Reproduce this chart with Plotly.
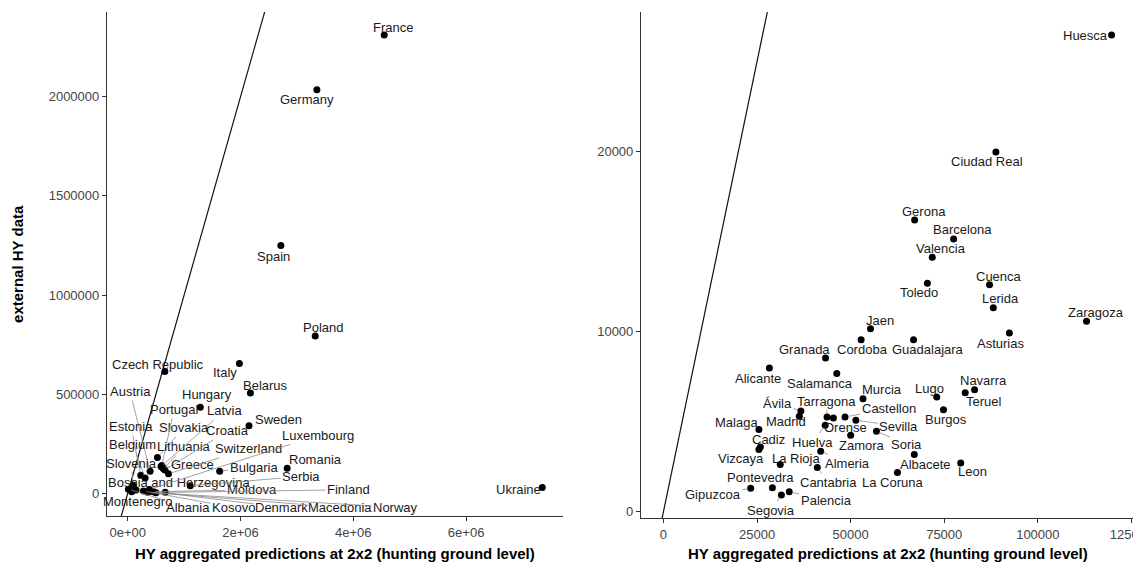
import plotly.graph_objects as go

# ---------------- Data: left panel (countries) ----------------
countries = ["France", "Germany", "Spain", "Poland", "Czech Republic", "Italy", "Belarus",
             "Hungary", "Sweden", "Romania", "Bulgaria", "Ukraine", "Slovakia", "Austria",
             "Estonia", "Belgium", "Portugal", "Latvia", "Lithuania", "Croatia", "Greece",
             "Switzerland", "Slovenia", "Bosnia and Herzegovina", "Serbia", "Luxembourg",
             "Moldova", "Finland", "Montenegro", "Albania", "Kosovo", "Denmark", "Macedonia",
             "Norway"]
country_pred = [4548000, 3354000, 2715000, 3324000, 658000, 1980000, 2175000,
                1286000, 2150000, 2827000, 1630000, 7350000, 527000, 397000,
                231000, 308000, 604000, 590000, 634000, 660000, 620000,
                723000, 100000, 148000, 1108000, 385000,
                456000, 664000, 70000, 12000, 279000, 430000, 350000,
                500000]
country_ext = [2312000, 2035000, 1250000, 794000, 615000, 655000, 506000,
               434000, 341000, 127000, 112000, 29000, 181000, 111000,
               91000, 78000, 140000, 135000, 124000, 118000, 130000,
               99000, 41000, 16500, 38000, 19800,
               8300, 5000, 8000, 21000, 11600, 10000, 6000,
               3000]

# ---------------- Data: right panel (Spanish provinces) ----------------
provinces = ["Huesca", "Ciudad Real", "Gerona", "Barcelona", "Valencia", "Toledo", "Cuenca",
             "Lerida", "Zaragoza", "Asturias", "Jaen", "Cordoba", "Guadalajara", "Granada",
             "Alicante", "Salamanca", "Murcia", "Lugo", "Navarra", "Teruel", "Burgos",
             "Ávila", "Madrid", "Tarragona", "Orense", "Castellon", "Sevilla", "Huelva",
             "Soria", "Zamora", "Malaga", "Cadiz", "Vizcaya", "Almeria", "Albacete", "Leon",
             "La Rioja", "Cantabria", "La Coruna", "Pontevedra", "Gipuzcoa", "Palencia",
             "Segovia"]
province_pred = [119700, 88800, 67100, 77500, 71800, 70500, 87100,
                 88100, 113000, 92400, 55300, 52800, 66800, 43300,
                 28300, 46300, 53300, 73000, 83100, 80600, 74800,
                 36700, 36300, 43700, 45400, 48500, 51400, 43200,
                 56900, 50000, 25500, 25900, 25500, 42000, 67000, 79400,
                 31200, 41100, 62500, 29100, 23300, 33600,
                 31500]
province_ext = [26470, 19980, 16200, 15150, 14130, 12690, 12600,
                11320, 10580, 9920, 10160, 9550, 9550, 8530,
                7980, 7670, 6280, 6370, 6780, 6610, 5670,
                5600, 5300, 5260, 5210, 5260, 5080, 4800,
                4470, 4250, 4560, 3600, 3460, 3360, 3180, 2710,
                2630, 2460, 2180, 1330, 1300, 1110,
                930]

# Tick definitions
left_xticks = [0, 2000000, 4000000, 6000000]
left_xticktext = ["0e+00", "2e+06", "4e+06", "6e+06"]
left_yticks = [0, 500000, 1000000, 1500000, 2000000]
right_xticks = [0, 25000, 50000, 75000, 100000, 125000]
right_yticks = [0, 10000, 20000]

# ---------------- Label placement (pixel offsets from point, repel-like) ----------------
# (dx, dy, draw_segment); dy positive = downwards
left_label_offsets = {
    "France": (8.5, -7.6, False), "Germany": (-9.7, 10.1, False), "Spain": (-7.7, 11.3, False),
    "Poland": (8, -8.7, False), "Czech Republic": (-7, -7.4, False), "Italy": (-14.7, 9, False),
    "Belarus": (15, -7.7, False), "Hungary": (6.7, -13.3, False), "Sweden": (30, -6.7, False),
    "Romania": (28.3, -8.3, False), "Bulgaria": (34, -4, True), "Ukraine": (-24, 1.7, False),
    "Slovakia": (26.6, -29.9, True), "Austria": (-20.1, -79.8, True), "Estonia": (-9.7, -48.8, True),
    "Belgium": (-12.4, -33.7, True), "Portugal": (12.3, -56.3, True), "Latvia": (63.1, -55.6, True),
    "Lithuania": (20.6, -22.2, True), "Croatia": (62.8, -39, True), "Greece": (30.1, -3.3, True),
    "Switzerland": (79.9, -24.8, True), "Slovenia": (-2.3, -22.1, True),
    "Bosnia and Herzegovina": (43, -8, True), "Serbia": (110.9, -9.4, True),
    "Luxembourg": (168.9, -54, True), "Moldova": (98.3, -1.9, True), "Finland": (183.2, -2.6, True),
    "Montenegro": (5.7, 9.6, False), "Albania": (59.9, 18.2, True), "Kosovo": (89.9, 16.3, True),
    "Denmark": (129.8, 16, True), "Macedonia": (192.6, 15.2, True), "Norway": (239.8, 14.6, True),
}
right_label_offsets = {
    "Huesca": (-26.2, 0.3, False), "Ciudad Real": (-9.3, 9.7, False), "Gerona": (9.3, -8.6, False),
    "Barcelona": (9.0, -9.0, False), "Valencia": (9.0, -8.4, False), "Toledo": (-8.6, 9.6, False),
    "Cuenca": (9.0, -8.6, False), "Lerida": (7.2, -9.3, False), "Zaragoza": (9.0, -8.4, False),
    "Asturias": (-9.0, 10, False), "Jaen": (9.7, -8.3, False), "Cordoba": (1.1, 9.7, False),
    "Guadalajara": (14, 10, False), "Granada": (-20.8, -8.4, False), "Alicante": (-11.5, 10, False),
    "Salamanca": (-16.8, 10, False), "Murcia": (18.6, -9, False), "Lugo": (-7.5, -8.4, False),
    "Navarra": (8.6, -9.3, False), "Teruel": (19, 8.7, False), "Burgos": (2.9, 10, False),
    "Ávila": (-23.3, -7.4, True), "Madrid": (-13.6, 5.7, False), "Tarragona": (-0.4, -15.7, True),
    "Orense": (12.5, 10, False), "Castellon": (43.7, -8.4, True), "Sevilla": (43, 6, True),
    "Huelva": (-12.2, 16.7, True), "Soria": (30.5, 13.3, True), "Zamora": (11.5, 10.7, False),
    "Malaga": (-22.6, -7.6, False), "Cadiz": (8.2, -7.7, False), "Vizcaya": (-17.9, 9, False),
    "Almeria": (26.9, 12.3, True), "Albacete": (11.5, 10, False), "Leon": (11.5, 9, False),
    "La Rioja": (15.4, -6, False), "Cantabria": (10.8, 15, True), "La Coruna": (-5.4, 10.4, False),
    "Pontevedra": (-11.5, -10.4, False), "Gipuzcoa": (-37.6, 5.7, True),
    "Palencia": (36.9, 8.3, True), "Segovia": (-10, 15, True),
}

FONT = "Liberation Sans, Arial, Helvetica, sans-serif"
TEXT_COL = "#1a1a1a"
SEG_COL = "#8a8a8a"


def expand(vals, mult=0.05, include_zero=False):
    lo, hi = min(vals), max(vals)
    if include_zero:
        lo = min(lo, 0)
    span = hi - lo
    return [lo - mult * span, hi + mult * span]


left_xr = expand(country_pred, include_zero=True)
left_yr = expand(country_ext, include_zero=True)
right_xr = expand(province_pred, include_zero=True)
right_yr = expand(province_ext)

fig = go.Figure()

# 1:1 reference lines
for xr, yr, xa, ya in [(left_xr, left_yr, "x", "y"), (right_xr, right_yr, "x2", "y2")]:
    lo = min(xr[0], yr[0])
    hi = max(xr[1], yr[1])
    fig.add_trace(go.Scatter(x=[lo, hi], y=[lo, hi], mode="lines",
                             line=dict(color="#111111", width=1.2),
                             xaxis=xa, yaxis=ya, hoverinfo="skip", showlegend=False))

fig.add_trace(go.Scatter(x=country_pred, y=country_ext, mode="markers", text=countries,
                         marker=dict(color="black", size=7), xaxis="x", yaxis="y",
                         showlegend=False))
fig.add_trace(go.Scatter(x=province_pred, y=province_ext, mode="markers", text=provinces,
                         marker=dict(color="black", size=7), xaxis="x2", yaxis="y2",
                         showlegend=False))

annotations = []


def add_labels(names, xs, ys, offsets, xref, yref):
    for n, xv, yv in zip(names, xs, ys):
        dx, dy, seg = offsets[n]
        base = dict(x=xv, y=yv, xref=xref, yref=yref, text=n,
                    font=dict(family=FONT, size=13, color=TEXT_COL),
                    xanchor="center", yanchor="middle")
        if seg:
            base.update(showarrow=True, ax=dx, ay=dy, arrowhead=0, arrowwidth=0.8,
                        arrowcolor=SEG_COL, standoff=3)
        else:
            base.update(showarrow=False, xshift=dx, yshift=-dy)
        annotations.append(base)


add_labels(countries, country_pred, country_ext, left_label_offsets, "x", "y")
add_labels(provinces, province_pred, province_ext, right_label_offsets, "x2", "y2")

xtitle = "<b>HY aggregated predictions at 2x2 (hunting ground level)</b>"
annotations.append(dict(text=xtitle, xref="paper", yref="paper", x=0.222, y=-0.0692,
                        showarrow=False, xanchor="center", yanchor="middle",
                        font=dict(family=FONT, size=15, color="black")))
annotations.append(dict(text=xtitle, xref="paper", yref="paper", x=0.76, y=-0.0692,
                        showarrow=False, xanchor="center", yanchor="middle",
                        font=dict(family=FONT, size=15, color="black")))
annotations.append(dict(text="<b>external HY data</b>", xref="paper", yref="paper",
                        x=-0.0867, y=0.502, textangle=-90, showarrow=False,
                        xanchor="center", yanchor="middle",
                        font=dict(family=FONT, size=15, color="black")))

axis_common = dict(showgrid=False, zeroline=False, showline=True, linecolor="#333333",
                   linewidth=1.2, ticks="outside", ticklen=4, tickcolor="#333333",
                   tickwidth=1, automargin=False, ticklabeloverflow="allow",
                   tickfont=dict(family=FONT, size=13, color="#444444"))

# The page body adds an 8px offset, so the figure is sized/margined to compensate.
fig.update_layout(
    template="none",
    width=1133, height=567,
    margin=dict(l=99, r=7, t=4, b=57, autoexpand=False),
    paper_bgcolor="white", plot_bgcolor="white",
    annotations=annotations,
    xaxis=dict(domain=[0, 0.444], range=left_xr, tickvals=left_xticks,
               ticktext=left_xticktext, anchor="y", **axis_common),
    yaxis=dict(domain=[0.0034, 1], range=left_yr, tickvals=left_yticks,
               tickformat="d", anchor="x", **axis_common),
    xaxis2=dict(domain=[0.52, 1], range=right_xr, tickvals=right_xticks,
                tickformat="d", anchor="y2", **axis_common),
    yaxis2=dict(domain=[0, 1], range=right_yr, tickvals=right_yticks,
                tickformat="d", anchor="x2", **axis_common),
)

fig.write_html("out.html")
